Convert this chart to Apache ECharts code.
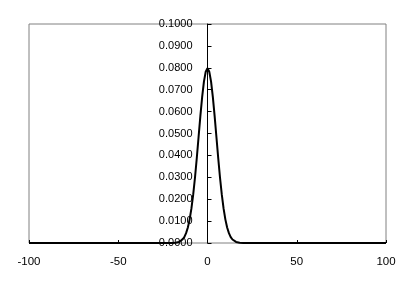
<!DOCTYPE html>
<html>
<head>
<meta charset="utf-8">
<script src="https://cdn.jsdelivr.net/npm/echarts@6/dist/echarts.min.js"></script>
<style>
html,body{margin:0;padding:0;background:#fff;}
#c{width:415px;height:286px;}
</style>
</head>
<body>
<div id="c"></div>
<script>
var xValues = [-100, -20, -19, -18, -17, -16, -15, -14, -13, -12, -11, -10, -9, -8, -7, -6, -5, -4, -3, -2, -1, 0,
  1, 2, 3, 4, 5, 6, 7, 8, 9, 10, 11, 12, 13, 14, 15, 16, 17, 18, 19, 20, 100];
var yValues = [0.0000, 0.0000, 0.0001, 0.0001, 0.0002, 0.0005, 0.0009, 0.0016, 0.0027, 0.0045, 0.0071, 0.0108,
  0.0158, 0.0222, 0.0299, 0.0388, 0.0484, 0.0579, 0.0666, 0.0737, 0.0782, 0.0798,
  0.0782, 0.0737, 0.0666, 0.0579, 0.0484, 0.0388, 0.0299, 0.0222, 0.0158, 0.0108, 0.0071, 0.0045,
  0.0027, 0.0016, 0.0009, 0.0005, 0.0002, 0.0001, 0.0001, 0.0000, 0.0000];
var xTicks = [-100, -50, 0, 50, 100];
var yTicks = [0, 0.01, 0.02, 0.03, 0.04, 0.05, 0.06, 0.07, 0.08, 0.09, 0.1];

var pts = xValues.map(function (x, i) { return [x, yValues[i]]; });
var chart = echarts.init(document.getElementById('c'), null, {renderer: 'canvas'});
var gridLeft = 29, gridRight = 29;
var plotW = 415 - gridLeft - gridRight;
// place the y axis at x = 0 of the value x axis
var zeroOffset = -plotW * (0 - xTicks[0]) / (xTicks[xTicks.length - 1] - xTicks[0]);
chart.setOption({
  backgroundColor: '#ffffff',
  animation: false,
  grid: {left: gridLeft, right: gridRight, top: 24, bottom: 43, containLabel: false, outerBoundsMode: 'none',
    show: true, borderColor: '#808080', borderWidth: 1, backgroundColor: 'transparent'},
  xAxis: {
    type: 'value', min: xTicks[0], max: xTicks[xTicks.length - 1], interval: 50,
    axisLine: {show: false},
    axisTick: {show: true, inside: true, length: 3, lineStyle: {color: '#000'}},
    splitLine: {show: false},
    axisLabel: {color: '#000', fontFamily: 'Liberation Sans', fontSize: 11.5, margin: 13}
  },
  yAxis: {
    type: 'value', min: yTicks[0], max: yTicks[yTicks.length - 1], interval: 0.01,
    offset: zeroOffset,
    axisLine: {show: true, onZero: false, lineStyle: {color: '#000', width: 1}},
    axisTick: {show: true, inside: true, length: 4, lineStyle: {color: '#000'}},
    splitLine: {show: false},
    axisLabel: {color: '#000', fontFamily: 'Liberation Sans', fontSize: 11, margin: 15,
      formatter: function (v) { return v.toFixed(4); }}
  },
  series: [{
    type: 'line', data: pts, showSymbol: false, smooth: false,
    lineStyle: {color: '#000', width: 2}, z: 5
  }]
});
</script>
</body>
</html>
